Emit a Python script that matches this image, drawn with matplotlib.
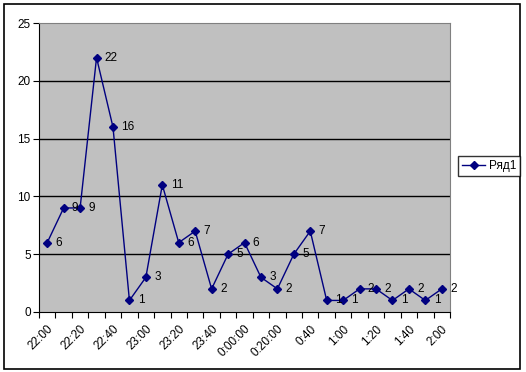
import matplotlib
matplotlib.use("Agg")
import matplotlib.pyplot as plt
from matplotlib.patches import Rectangle

plt.rcParams['font.family'] = ['Liberation Sans', 'DejaVu Sans']

values = [6, 9, 9, 22, 16, 1, 3, 11, 6, 7, 2, 5, 6, 3, 2, 5, 7, 1, 1, 2, 2, 1, 2, 1, 2]
tick_labels = ["22:00", "22:20", "22:40", "23:00", "23:20", "23:40", "0:00:00",
               "0:20:00", "0:40", "1:00", "1:20", "1:40", "2:00"]
series_name = "Ряд1"

W, H = 526, 372
fig = plt.figure(figsize=(W / 100, H / 100), dpi=100)
fig.patch.set_facecolor('white')
# outer border
fig.add_artist(Rectangle((4 / W, 3 / H), (520 - 4) / W, (368 - 3) / H,
                         transform=fig.transFigure, fill=False, edgecolor='black', lw=1.2))

left, right, top, bottom = 39, 450, 23, 312
ax = fig.add_axes([left / W, 1 - bottom / H, (right - left) / W, (bottom - top) / H])
ax.set_facecolor('#C0C0C0')
n = len(values)
xs = [i + 0.5 for i in range(n)]
ax.plot(xs, values, color='#000080', lw=1, marker='D', markersize=4, zorder=3)
for x, v in zip(xs, values):
    ax.annotate(str(v), (x, v), xytext=(6, 0), textcoords='offset points',
                ha='left', va='center', fontsize=8.5, color='black', zorder=4)

ax.set_xlim(0, n)
ax.set_ylim(0, 25)
ax.set_yticks([0, 5, 10, 15, 20, 25])
ax.tick_params(axis='y', labelsize=8.5, direction='out', length=4, pad=2)
ax.set_xticks(range(0, n + 1))
ax.set_xticklabels([])
ax.set_xticks([i + 0.5 for i in range(0, n, 2)], minor=True)
ax.set_xticklabels(tick_labels, minor=True, rotation=45, ha='right', va='top',
                   fontsize=8.5, rotation_mode='anchor')
ax.tick_params(axis='x', which='major', direction='out', length=4)
ax.tick_params(axis='x', which='minor', length=0, pad=8)
for y in [5, 10, 15, 20]:
    ax.axhline(y, color='black', lw=1, zorder=1)
for s in ['top', 'right']:
    ax.spines[s].set_color('#808080')
for s in ['left', 'bottom']:
    ax.spines[s].set_color('black')

leg = fig.legend([plt.Line2D([], [], color='#000080', marker='D', markersize=4, lw=1)],
                 [series_name], loc='center', bbox_to_anchor=(489 / W, 1 - 166 / H),
                 fontsize=8.5, frameon=True, fancybox=False, handlelength=2,
                 borderpad=0.3, handletextpad=0.3)
leg.get_frame().set_edgecolor('black')
leg.get_frame().set_linewidth(1)

fig.savefig('out.png', dpi=100)
